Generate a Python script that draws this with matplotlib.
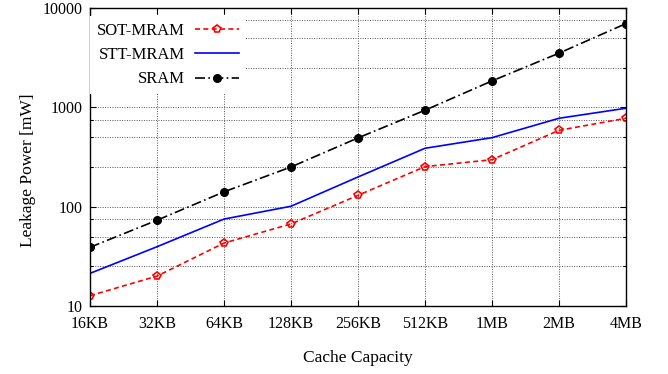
import matplotlib
matplotlib.use("Agg")
import matplotlib.pyplot as plt
from matplotlib.ticker import FixedLocator, NullFormatter
import numpy as np

categories = ["16KB", "32KB", "64KB", "128KB", "256KB", "512KB", "1MB", "2MB", "4MB"]
sot_mram = [12.7, 20, 43, 67, 130, 253, 297, 587, 776]
stt_mram = [21.3, 39.5, 75, 101, 199, 387, 495, 776, 979]
sram = [39, 73, 141, 251, 492, 935, 1845, 3510, 6970]

plt.rcParams['font.family'] = ['Liberation Serif', 'DejaVu Serif']

fig = plt.figure(figsize=(6.68, 3.74), dpi=100)
ax = fig.add_axes([90/668, 1-306/374, (626-90)/668, (306-8)/374])

x = np.arange(len(categories))
ax.plot(x, sot_mram, color='red', linestyle=(0, (3, 2)), linewidth=1.2,
        marker='p', markersize=6, markerfacecolor='none', markeredgecolor='red',
        markeredgewidth=1.2, label='SOT-MRAM')
ax.plot(x, stt_mram, color='#0000ff', linestyle='-', linewidth=1.2, label='STT-MRAM')
ax.plot(x, sram, color='black', linestyle=(0, (6, 2, 1, 2)), linewidth=1.2,
        marker='o', markersize=5.5, label='SRAM')

ax.set_yscale('log')
ax.set_ylim(10, 10000)
ax.set_xlim(0, len(categories) - 1)
ax.set_xticks(x)
ax.set_xticklabels(categories)
ax.yaxis.set_major_locator(FixedLocator([10, 100, 1000, 10000]))
ax.set_yticklabels(['10', '100', '1000', '10000'])
minors = [d * m for d in [10, 100, 1000] for m in [2.5, 5, 7.5]]
ax.yaxis.set_minor_locator(FixedLocator(minors))
ax.yaxis.set_minor_formatter(NullFormatter())

ax.tick_params(which='both', direction='in', top=True, right=True, labelsize=11.5)
ax.tick_params(which='major', length=4, width=0.8)
ax.tick_params(which='minor', length=2.5, width=0.8)
ax.tick_params(axis='x', pad=7)
ax.tick_params(axis='y', pad=5)

ax.grid(True, which='major', axis='both', color='#555555', linestyle=(0, (1, 1.5)), linewidth=0.7)
ax.grid(True, which='minor', axis='y', color='#555555', linestyle=(0, (1, 1.5)), linewidth=0.7)
ax.set_axisbelow(True)
for s in ax.spines.values():
    s.set_linewidth(1.0)

ax.set_xlabel('Cache Capacity', fontsize=12.5, labelpad=13)
ax.set_ylabel('Leakage Power [mW]', fontsize=12.5, labelpad=8)
ax.yaxis.set_label_coords(-0.1, 0.455)

leg = ax.legend(loc='upper left', bbox_to_anchor=(0.0, 1.0 - 8/298), frameon=True, markerfirst=False,
                fontsize=12, handlelength=2.64, handletextpad=0.6, labelspacing=0.5,
                borderaxespad=0.0, borderpad=0.4, fancybox=False, edgecolor='none',
                facecolor='white', framealpha=1.0)

fig.savefig('out.png', dpi=100)
